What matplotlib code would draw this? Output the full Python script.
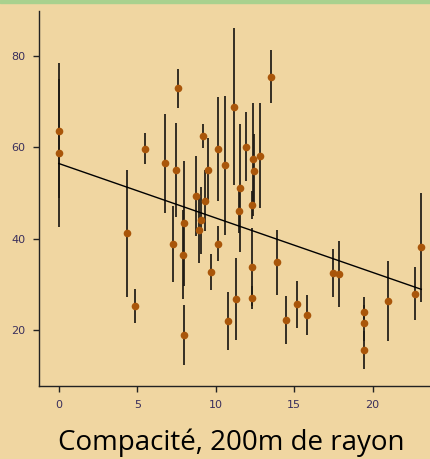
import numpy as np
import matplotlib
matplotlib.use('Agg')
import matplotlib.pyplot as plt
from matplotlib.patches import Rectangle

# compacity (x), mean value (y) and half error bar
compac = [0.0, 0.0, 4.34, 4.86, 5.52, 6.79, 7.28, 7.45, 7.62, 7.92, 7.96, 7.99,
          8.73, 8.95, 9.09, 9.22, 9.30, 9.48, 9.69, 10.14, 10.14, 10.58, 10.81,
          11.18, 11.32, 11.48, 11.54, 11.93, 12.29, 12.29, 12.29, 12.37, 12.43,
          12.82, 13.55, 13.88, 14.46, 15.20, 15.80, 17.50, 17.83, 19.43, 19.43,
          19.43, 20.96, 22.70, 23.09]
value = [63.6, 58.7, 41.1, 25.2, 59.6, 56.4, 38.9, 55.0, 72.8, 36.5, 43.3, 18.9,
         49.3, 41.9, 44.0, 62.4, 48.3, 55.0, 32.7, 59.6, 38.9, 56.0, 22.0,
         68.8, 26.8, 46.1, 51.1, 60.1, 47.3, 33.8, 27.1, 57.3, 54.8,
         58.1, 75.4, 34.8, 22.2, 25.6, 23.3, 32.5, 32.2, 24.0, 21.5,
         15.6, 26.3, 27.9, 38.1]
err = [14.7, 16.1, 13.8, 3.7, 3.4, 10.8, 8.3, 10.3, 4.2, 9.8, 13.7, 6.5,
       8.8, 7.3, 7.3, 2.6, 6.7, 7.0, 4.0, 11.3, 3.8, 15.2, 6.3,
       17.2, 9.0, 5.0, 14.0, 7.6, 3.0, 8.5, 2.5, 12.3, 8.0,
       11.5, 5.7, 7.1, 5.3, 5.2, 4.3, 5.2, 7.2, 3.3, 4.0,
       4.1, 8.8, 5.8, 11.9]

# regression line end points
fit_x = [0.0, 23.1]
fit_y = [56.4, 28.9]

xticks = [0, 5, 10, 15, 20]
yticks = [20, 40, 60, 80]

bg = '#F0D6A1'
fig = plt.figure(figsize=(4.31, 4.59), dpi=100, facecolor=bg)
ax = fig.add_axes([0.0912, 0.159, 0.9088, 0.8177])
ax.set_facecolor(bg)

# green strip along the top edge
fig.patches.append(Rectangle((0, 0.993), 1, 0.007, transform=fig.transFigure,
                             color='#A9D18E', zorder=0))

ax.errorbar(compac, value, yerr=err, fmt='none', ecolor='#1e1a14',
            elinewidth=1.25, capsize=0, zorder=2)
ax.plot(compac, value, 'o', color='#A9560A', markersize=5.5,
        markeredgewidth=0, zorder=3)
ax.plot(fit_x, fit_y, color='black', linewidth=1.0, zorder=4)

ax.set_xlim(-1.24, 23.72)
ax.set_ylim(7.76, 89.8)
ax.set_xticks(xticks)
ax.set_yticks(yticks)
ax.spines['top'].set_visible(False)
ax.spines['right'].set_visible(False)
for s in ['left', 'bottom']:
    ax.spines[s].set_linewidth(1.0)
    ax.spines[s].set_color('#222222')
ax.tick_params(direction='out', length=4, width=1.0, color='#222222',
               labelsize=8, labelcolor='#3a2f5c', pad=6)

fig.text(0.536, 0.035, 'Compacité, 200m de rayon', ha='center', va='center',
         fontsize=20, family='Open Sans', color='black')

fig.savefig('out.png', dpi=100, facecolor=bg)
